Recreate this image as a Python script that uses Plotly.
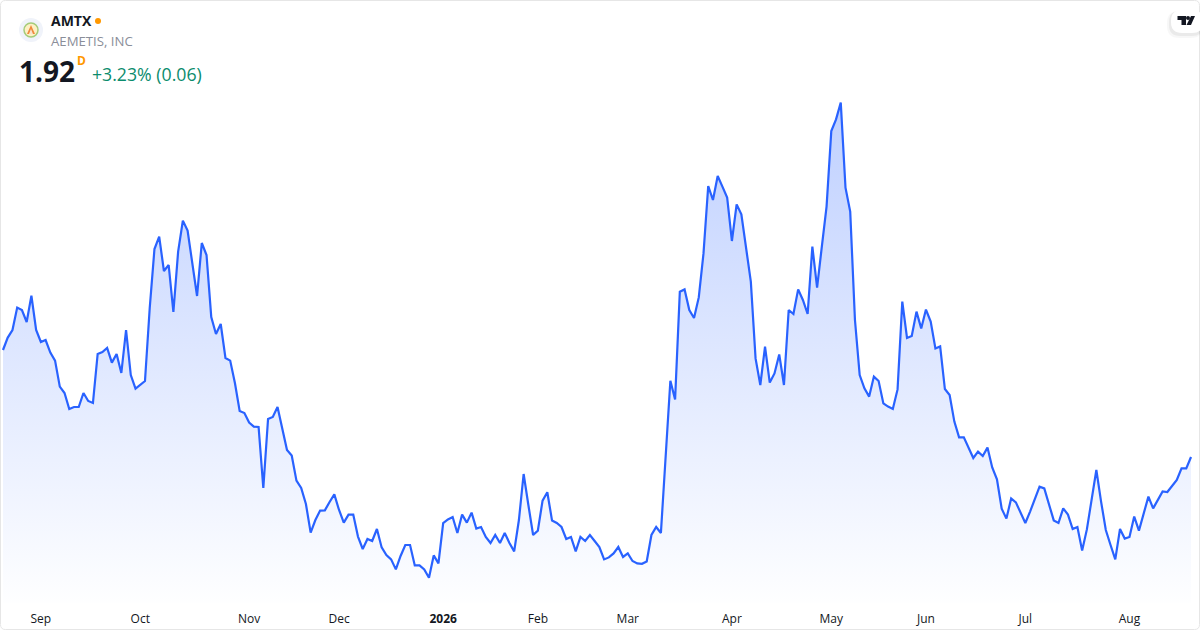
import pandas as pd
import plotly.graph_objects as go

WIDTH = 1200
HEIGHT = 630
FONT = "Open Sans"

# closes, one list per month
closes_aug25 = [2.455, 2.517, 2.555, 2.667, 2.655, 2.595, 2.727, 2.555]
closes_sep25 = [2.495, 2.505, 2.442, 2.402, 2.272, 2.24, 2.16, 2.17, 2.17, 2.24, 2.2, 2.19, 2.435, 2.445,
                2.465, 2.392, 2.435, 2.34, 2.555, 2.33, 2.262]
closes_oct25 = [2.28, 2.3, 2.665, 2.96, 3.022, 2.85, 2.88, 2.645, 2.947, 3.102, 3.052, 2.897, 2.725, 2.99,
                2.93, 2.62, 2.535, 2.585, 2.415, 2.402, 2.29, 2.15, 2.14]
closes_nov25 = [2.092, 2.072, 2.07, 1.765, 2.11, 2.12, 2.17, 2.065, 1.955, 1.927, 1.802, 1.765, 1.685,
                1.542, 1.605, 1.652, 1.653, 1.695, 1.733]
closes_dec25 = [1.655, 1.592, 1.632, 1.632, 1.522, 1.46, 1.51, 1.5, 1.56, 1.468, 1.43, 1.408, 1.358, 1.425,
                1.48, 1.48, 1.378, 1.378, 1.358, 1.316, 1.428, 1.388]
closes_jan26 = [1.59, 1.608, 1.62, 1.54, 1.632, 1.592, 1.642, 1.562, 1.57, 1.52, 1.49, 1.53, 1.49, 1.54,
                1.49, 1.448, 1.605, 1.835, 1.68, 1.53]
closes_feb26 = [1.552, 1.702, 1.744, 1.602, 1.59, 1.57, 1.51, 1.52, 1.448, 1.52, 1.5, 1.53, 1.5, 1.47,
                1.408, 1.418, 1.438, 1.47, 1.42]
closes_mar26 = [1.438, 1.4, 1.388, 1.386, 1.398, 1.53, 1.57, 1.54, 1.92, 2.301, 2.208, 2.746, 2.758, 2.655,
                2.615, 2.718, 2.938, 3.275, 3.205, 3.325, 3.272, 3.217]
closes_apr26 = [3.0, 3.183, 3.133, 2.958, 2.797, 2.413, 2.28, 2.472, 2.292, 2.338, 2.433, 2.28, 2.655,
                2.635, 2.758, 2.705, 2.635, 2.972, 2.767, 2.972, 3.172]
closes_may26 = [3.55, 3.608, 3.692, 3.267, 3.147, 2.605, 2.33, 2.263, 2.222, 2.322, 2.3, 2.188, 2.172,
                2.16, 2.258, 2.697, 2.515, 2.525, 2.647, 2.563]
closes_jun26 = [2.657, 2.597, 2.463, 2.473, 2.26, 2.23, 2.097, 2.018, 2.018, 1.967, 1.915, 1.947, 1.925,
                1.967, 1.868, 1.808, 1.662, 1.612, 1.713, 1.693, 1.643]
closes_jul26 = [1.59, 1.647, 1.71, 1.772, 1.763, 1.683, 1.603, 1.59, 1.663, 1.632, 1.56, 1.57, 1.452,
                1.558, 1.713, 1.855, 1.697, 1.555, 1.48, 1.408, 1.56, 1.512]
closes_aug26 = [1.52, 1.622, 1.552, 1.638, 1.722, 1.663, 1.705, 1.748, 1.745, 1.775, 1.805, 1.863, 1.863,
                1.92]

market_holidays = ["2025-09-01", "2025-11-27", "2025-12-25", "2026-01-01", "2026-01-19", "2026-02-16",
                   "2026-04-03", "2026-05-25", "2026-06-19", "2026-07-03"]

tick_dates = ["2025-09-02", "2025-10-01", "2025-11-03", "2025-12-01", "2026-01-02", "2026-02-02",
              "2026-03-02", "2026-04-01", "2026-05-01", "2026-06-01", "2026-07-01", "2026-08-03"]
tick_labels = ["Sep", "Oct", "Nov", "Dec", "<b>2026</b>", "Feb", "Mar", "Apr", "May", "Jun", "Jul", "Aug"]

closes = (closes_aug25 + closes_sep25 + closes_oct25 + closes_nov25 + closes_dec25 + closes_jan26
          + closes_feb26 + closes_mar26 + closes_apr26 + closes_may26 + closes_jun26 + closes_jul26
          + closes_aug26)

days = pd.bdate_range("2025-08-20", "2026-08-20").strftime("%Y-%m-%d")
days = [d for d in days if d not in market_holidays]


def px(x):
    return x / WIDTH


def py(y):
    return 1 - y / HEIGHT


def label(text, x, y, size, color, bold=False, anchor="left"):
    return dict(
        text=f"<b>{text}</b>" if bold else text,
        x=px(x), y=py(y), xref="paper", yref="paper",
        xanchor=anchor, yanchor="middle", showarrow=False,
        font=dict(family=FONT, size=size, color=color),
    )


def circle(cx, cy, r, fill, line_color=None, line_width=0):
    return dict(
        type="circle", xref="paper", yref="paper", layer="above",
        x0=px(cx - r), x1=px(cx + r), y0=py(cy + r), y1=py(cy - r),
        fillcolor=fill, line=dict(color=line_color or fill, width=line_width),
    )


def polygon(points, fill):
    path = "M " + " L ".join(f"{px(x):.5f} {py(y):.5f}" for x, y in points) + " Z"
    return dict(type="path", xref="paper", yref="paper", layer="above", path=path,
                fillcolor=fill, line=dict(width=0))


def rounded_rect(x0, y0, x1, y1, r):
    return (
        f"M {px(x0 + r):.5f} {py(y0):.5f} L {px(x1 - r):.5f} {py(y0):.5f} "
        f"Q {px(x1):.5f} {py(y0):.5f} {px(x1):.5f} {py(y0 + r):.5f} "
        f"L {px(x1):.5f} {py(y1 - r):.5f} "
        f"Q {px(x1):.5f} {py(y1):.5f} {px(x1 - r):.5f} {py(y1):.5f} "
        f"L {px(x0 + r):.5f} {py(y1):.5f} "
        f"Q {px(x0):.5f} {py(y1):.5f} {px(x0):.5f} {py(y1 - r):.5f} "
        f"L {px(x0):.5f} {py(y0 + r):.5f} "
        f"Q {px(x0):.5f} {py(y0):.5f} {px(x0 + r):.5f} {py(y0):.5f} Z"
    )


area = go.Scatter(
    x=days,
    y=closes,
    mode="lines",
    line=dict(color="#2962FF", width=2.2),
    fill="tozeroy",
    fillgradient=dict(
        type="vertical",
        colorscale=[[0, "rgba(41,98,255,0)"], [1, "rgba(41,98,255,0.3)"]],
        start=1.15,
        stop=3.692,
    ),
    hoverinfo="skip",
    showlegend=False,
)

fig = go.Figure(area)

fig.update_layout(
    width=WIDTH,
    height=HEIGHT,
    margin=dict(l=0, r=0, t=0, b=0),
    paper_bgcolor="white",
    plot_bgcolor="white",
    showlegend=False,
)

fig.update_xaxes(
    type="category",
    categoryorder="array",
    categoryarray=days,
    range=[-0.634, 252.9],
    tickmode="array",
    tickvals=tick_dates,
    ticktext=tick_labels,
    ticks="outside",
    ticklen=5,
    tickcolor="white",
    tickangle=0,
    tickfont=dict(family=FONT, size=12, color="#131722"),
    showgrid=False,
    showline=False,
    zeroline=False,
)
fig.update_yaxes(
    domain=[27 / HEIGHT, 1],
    range=[1.19, 4.205],
    visible=False,
)

fig.update_layout(
    annotations=[
        label("AMTX", 49, 21, 14, "#131722", bold=True),
        label("AEMETIS, INC", 49, 41, 13.2, "#8a8e99"),
        label("1.92", 17, 71, 28, "#131722", bold=True),
        label("D", 75, 61, 12, "#ff9800", bold=True),
        label("+3.23% (0.06)", 90, 74, 17.7, "#0b8c6d"),
    ],
    shapes=[
        # card border
        dict(type="path", xref="paper", yref="paper", layer="above",
             path=rounded_rect(0.5, 0.5, 1199.5, 629.5, 5),
             line=dict(color="#e6e6e6", width=1)),
        # logo
        circle(31, 30, 12, "#f0f3fa"),
        circle(31, 30, 7, "#fdf0c4", "#a4cc7a", 1.5),
        polygon([(31, 25), (35, 34), (27, 34)], "#f08a3c"),
        polygon([(31, 29), (33, 34), (29, 34)], "#f7e3d0"),
        circle(98, 21, 3, "#ff9800"),
        # tradingview badge, two layers for the soft shadow
        dict(type="path", xref="paper", yref="paper", layer="above",
             path=rounded_rect(1167, 11, 1203, 38, 12),
             fillcolor="rgba(0,0,0,0.03)", line=dict(width=0)),
        dict(type="path", xref="paper", yref="paper", layer="above",
             path=rounded_rect(1169, 11, 1203, 36, 11),
             fillcolor="rgba(0,0,0,0.05)", line=dict(width=0)),
        dict(type="path", xref="paper", yref="paper", layer="above",
             path=rounded_rect(1171, 10, 1203, 33, 11),
             fillcolor="white", line=dict(width=0)),
        polygon([(1177.5, 16), (1186, 16), (1186, 25), (1181.5, 25), (1181.5, 20), (1177.5, 20)], "#131722"),
        circle(1188, 18, 2, "#131722"),
        polygon([(1191, 16), (1195, 16), (1191, 25), (1186.5, 25)], "#131722"),
    ],
)

fig.write_html("out.html", post_script="document.body.style.margin='0';",
               config=dict(displayModeBar=False))
